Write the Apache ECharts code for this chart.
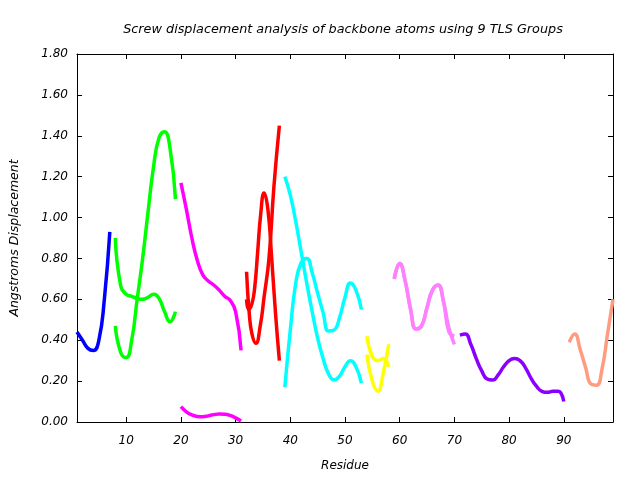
<!DOCTYPE html>
<html>
<head>
<meta charset="utf-8">
<script src="https://cdn.jsdelivr.net/npm/echarts@6/dist/echarts.min.js"></script>
<style>html,body{margin:0;padding:0;background:#fff;}#c{width:640px;height:480px;}</style>
</head>
<body>
<div id="c"></div>
<script>
const titleText = 'Screw displacement analysis of backbone atoms using 9 TLS Groups';
const xName = 'Residue';
const yName = 'Angstroms Displacement';
const xTicks = [10, 20, 30, 40, 50, 60, 70, 80, 90];
const yTicks = [0, 0.2, 0.4, 0.6, 0.8, 1.0, 1.2, 1.4, 1.6, 1.8];

// Group 1 (blue)
const g1Res = [1, 2, 3, 4, 5, 6, 7];
const g1A = [0.44, 0.40, 0.36, 0.35, 0.40, 0.60, 0.93];
// Group 2 (green)
const g2Res = [8, 9, 10, 11, 12, 13, 14, 15, 16, 17, 18, 19];
const g2A = [0.90, 0.665, 0.625, 0.615, 0.605, 0.60, 0.61, 0.625, 0.605, 0.54, 0.49, 0.54];
const g2B = [0.47, 0.34, 0.315, 0.40, 0.60, 0.80, 1.03, 1.25, 1.39, 1.42, 1.34, 1.09];
// Group 3 (magenta)
const g3Res = [20, 21, 22, 23, 24, 25, 26, 27, 28, 29, 30, 31];
const g3A = [1.17, 1.04, 0.90, 0.79, 0.72, 0.69, 0.67, 0.645, 0.615, 0.595, 0.54, 0.35];
const g3B = [0.075, 0.05, 0.035, 0.027, 0.026, 0.03, 0.036, 0.039, 0.038, 0.032, 0.02, 0.005];
// Group 4 (red)
const g4ResA = [32, 32.5, 33, 33.7, 34.5, 35.2, 36.1, 37, 38];
const g4A = [0.735, 0.53, 0.43, 0.385, 0.47, 0.61, 0.80, 1.15, 1.45];
const g4ResB = [32, 32.4, 33, 33.5, 34, 34.6, 35.2, 35.9, 36.6, 37.3, 38];
const g4B = [0.60, 0.55, 0.58, 0.66, 0.82, 1.02, 1.12, 1.04, 0.80, 0.53, 0.30];
// Group 5 (cyan)
const g5Res = [39, 40, 41, 42, 43, 44, 45, 46, 47, 48, 49, 50, 51, 52, 53];
const g5A = [1.20, 1.11, 0.98, 0.83, 0.68, 0.54, 0.41, 0.31, 0.235, 0.205, 0.225, 0.27, 0.30, 0.27, 0.19];
const g5B = [0.17, 0.45, 0.68, 0.78, 0.80, 0.73, 0.63, 0.535, 0.445, 0.45, 0.51, 0.61, 0.68, 0.645, 0.55];
// Group 6 (yellow)
const g6Res = [54, 55, 56, 57, 58];
const g6A = [0.42, 0.32, 0.30, 0.31, 0.27];
const g6B = [0.33, 0.20, 0.15, 0.24, 0.38];
// Group 7 (pink)
const g7Res = [59, 60, 61, 62, 63, 64, 65, 66, 67, 68, 69, 70];
const g7A = [0.70, 0.775, 0.69, 0.55, 0.455, 0.47, 0.56, 0.645, 0.67, 0.59, 0.46, 0.38];
const g7B = [0.70, 0.775, 0.69, 0.55, 0.455, 0.47, 0.56, 0.645, 0.67, 0.59, 0.44, 0.42];
// Group 8 (purple)
const g8Res = [71, 72, 73, 74, 75, 76, 77, 78, 79, 80, 81, 82, 83, 84, 85, 86, 87, 88, 89, 90];
const g8A = [0.425, 0.43, 0.38, 0.31, 0.25, 0.21, 0.205, 0.23, 0.27, 0.30, 0.31, 0.30, 0.265, 0.215, 0.175, 0.15, 0.145, 0.15, 0.15, 0.10];
// Group 9 (salmon)
const g9Res = [91, 92, 93, 94, 95, 96, 97, 98, 99];
const g9A = [0.39, 0.43, 0.355, 0.265, 0.185, 0.18, 0.26, 0.43, 0.60];

const curves = [
  [g1Res, g1A, '#0000ff'],
  [g2Res, g2A, '#00ff00'],
  [g2Res, g2B, '#00ff00'],
  [g3Res, g3A, '#ff00ff'],
  [g3Res, g3B, '#ff00ff'],
  [g4ResA, g4A, '#ff0000'],
  [g4ResB, g4B, '#ff0000'],
  [g5Res, g5A, '#00ffff'],
  [g5Res, g5B, '#00ffff'],
  [g6Res, g6A, '#ffff00'],
  [g6Res, g6B, '#ffff00'],
  [g7Res, g7A, '#ff80ff'],
  [g7Res, g7B, '#ff80ff'],
  [g8Res, g8A, '#8a00ff'],
  [g9Res, g9A, '#ff9c80']
];

const font = 'DejaVu Sans';
const series = curves.map(function (c) {
  return {
    type: 'line',
    xAxisIndex: 0,
    yAxisIndex: 0,
    data: c[0].map(function (x, i) { return [x, c[1][i]]; }),
    smooth: 0.5,
    showSymbol: false,
    silent: true,
    lineStyle: { color: c[2], width: 3.5 },
    itemStyle: { color: c[2] }
  };
});

const xCommon = {
  type: 'value', min: 1, max: 99,
  axisLine: { onZero: false, lineStyle: { color: '#000', width: 1 } },
  axisTick: { inside: true, length: 5, customValues: xTicks, lineStyle: { color: '#000' } },
  splitLine: { show: false }
};
const yCommon = {
  type: 'value', min: 0, max: 1.8, interval: 0.2,
  axisLine: { show: true, onZero: false, lineStyle: { color: '#000', width: 1 } },
  axisTick: { show: true, inside: true, length: 5, customValues: yTicks, lineStyle: { color: '#000' } },
  splitLine: { show: false }
};

const chart = echarts.init(document.getElementById('c'), null, { renderer: 'canvas' });
chart.setOption({
  animation: false,
  backgroundColor: '#fff',
  title: {
    text: titleText, left: 338, top: 18, textAlign: 'center',
    textStyle: { fontFamily: font, fontStyle: 'italic', fontWeight: 'normal', fontSize: 12.8, color: '#000' }
  },
  grid: { left: 76, right: 27, top: 54, bottom: 58 },
  xAxis: [
    Object.assign({}, xCommon, {
      position: 'bottom', name: xName, nameLocation: 'middle', nameGap: 38,
      nameTextStyle: { fontFamily: font, fontStyle: 'italic', fontSize: 12, color: '#000' },
      axisLabel: { customValues: xTicks, margin: 13, fontFamily: font, fontStyle: 'italic', fontSize: 12, color: '#000' }
    }),
    Object.assign({}, xCommon, { position: 'top', axisLabel: { show: false } })
  ],
  yAxis: [
    Object.assign({}, yCommon, {
      position: 'left', name: yName, nameLocation: 'middle', nameGap: 56,
      nameTextStyle: { fontFamily: font, fontStyle: 'italic', fontSize: 12.5, color: '#000' },
      axisLabel: { margin: 9, fontFamily: font, fontStyle: 'italic', fontSize: 12, color: '#000',
        formatter: function (v) { return v.toFixed(2); } }
    }),
    Object.assign({}, yCommon, { position: 'right', axisLabel: { show: false } })
  ],
  series: series
});
</script>
</body>
</html>
